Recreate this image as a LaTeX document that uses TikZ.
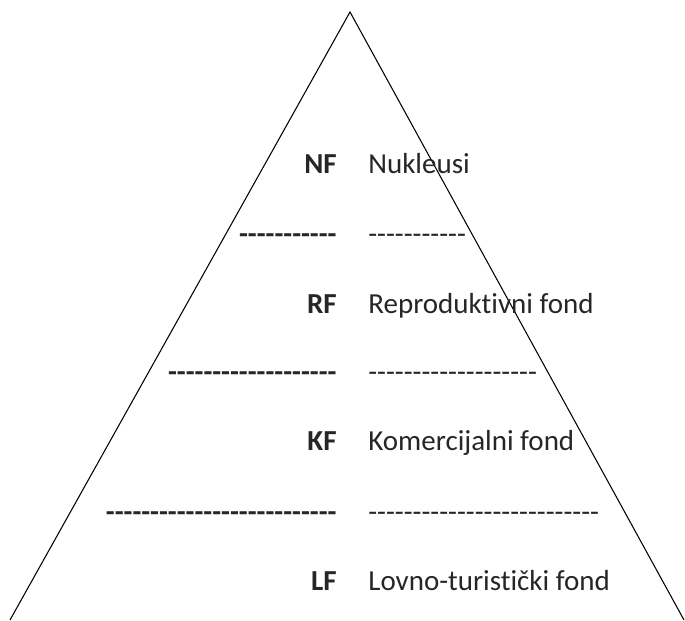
\documentclass[tikz,border=0pt]{standalone}
\usepackage{fontspec}
\setmainfont{Carlito}[Ligatures={TeXOff,NoCommon}]
\usetikzlibrary{positioning}

\tikzset{
  abbr/.style={anchor=base east, inner sep=0pt, font=\fontsize{16.5}{20}\selectfont\bfseries, text=black!85},
  desc/.style={anchor=base west, inner sep=0pt, font=\fontsize{16.5}{20}\selectfont, text=black!85},
}

\begin{document}
\begin{tikzpicture}[x=0.02cm,y=0.02cm]
\useasboundingbox (0,0) rectangle (685,620);

%triangle
\coordinate (top) at (350,608);
\coordinate (bl) at (10,0);
\coordinate (br) at (684,0);
\draw[line width=0.6pt] (bl) -- (top) -- (br);

%levels
\node[abbr] (nf) at (337,447) {NF};
\node[desc] (nfname) at (368,447) {Nukleusi};

\node[abbr] (sep1l) at (337,377) {-----------};
\node[desc] (sep1r) at (368,377) {-----------};

\node[abbr] (rf) at (337,307) {RF};
\node[desc] (rfname) at (368,307) {Reproduktivni fond};

\node[abbr] (sep2l) at (337,239) {-------------------};
\node[desc] (sep2r) at (368,239) {-------------------};

\node[abbr] (kf) at (337,170) {KF};
\node[desc] (kfname) at (368,170) {Komercijalni fond};

\node[abbr] (sep3l) at (337,99) {--------------------------};
\node[desc] (sep3r) at (368,99) {--------------------------};

\node[abbr] (lf) at (337,30) {LF};
\node[desc] (lfname) at (368,30) {Lovno-turistički fond};

\end{tikzpicture}
\end{document}
